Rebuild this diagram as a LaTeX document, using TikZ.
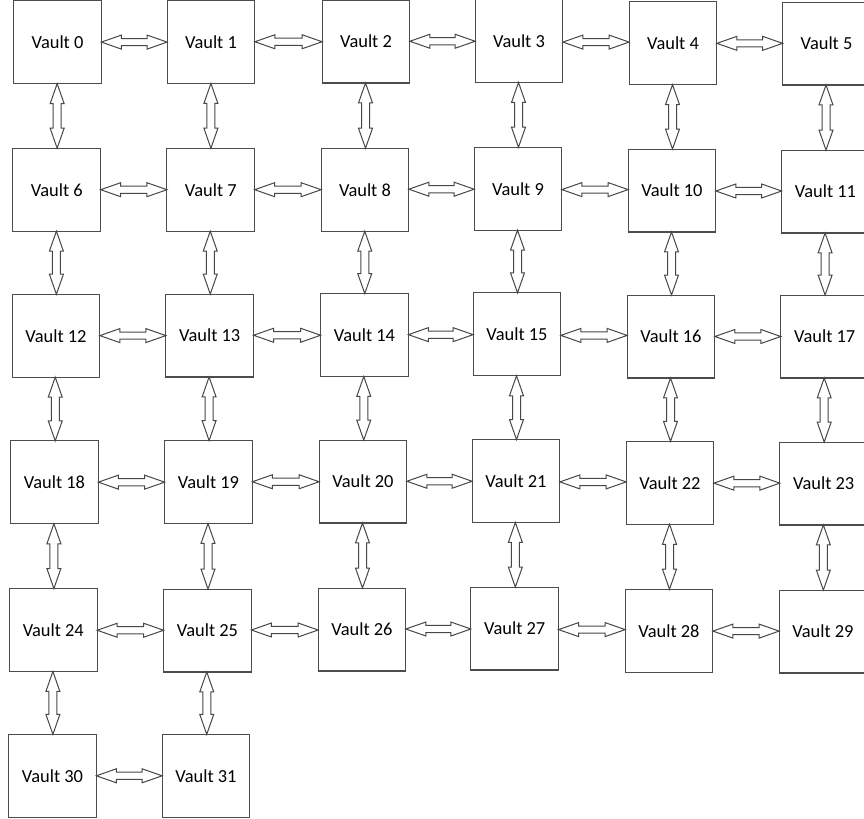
\documentclass[tikz,border=0pt]{standalone}
\usepackage{fontspec}
\setmainfont{Carlito}
\usetikzlibrary{calc}
\tikzset{
  vault/.style={draw=black!70, line width=0.8pt, fill=white, minimum width=65.8pt, minimum height=62.2pt,
    inner sep=0pt, outer sep=0pt, font=\fontsize{13.8}{16}\selectfont, text=black},
  link/.style={draw=black!72, line width=0.75pt, fill=white, line join=miter}
}
\newcommand\hlinkarrow[2]{%
  \path[link] let \p1=(#1.east), \p2=(#2.west), \n1={(\y1+\y2)/2} in
    (\x1,\n1) -- (\x1+15pt,\n1+5.25pt) -- (\x1+15pt,\n1+2.7pt) -- (\x2-15pt,\n1+2.7pt)
    -- (\x2-15pt,\n1+5.25pt) -- (\x2,\n1) -- (\x2-15pt,\n1-5.25pt) -- (\x2-15pt,\n1-2.7pt)
    -- (\x1+15pt,\n1-2.7pt) -- (\x1+15pt,\n1-5.25pt) -- cycle;}
\newcommand\vlinkarrow[2]{%
  \path[link] let \p1=(#1.south), \p2=(#2.north), \n1={(\x1+\x2)/2} in
    (\n1,\y1) -- (\n1+5.25pt,\y1-15pt) -- (\n1+3pt,\y1-15pt) -- (\n1+3pt,\y2+15pt)
    -- (\n1+5.25pt,\y2+15pt) -- (\n1,\y2) -- (\n1-5.25pt,\y2+15pt) -- (\n1-3pt,\y2+15pt)
    -- (\n1-3pt,\y1-15pt) -- (\n1-5.25pt,\y1-15pt) -- cycle;}
\begin{document}
\begin{tikzpicture}[x=0.75pt,y=-0.75pt]
\useasboundingbox (0,0) rectangle (864,818);
\foreach \n/\x/\y in {
  0/57.5/42.2, 1/211/42, 2/366/41.5, 3/519/41, 4/673/43.2, 5/826.5/43.5,
  6/56.8/189.7, 7/210.8/189.7, 8/365/189.7, 9/518/188.7, 10/672/190.5, 11/825.5/191.5,
  12/56/335.7, 13/209.7/335.5, 14/364.5/335, 15/517/334.3, 16/671/336.5, 17/824.7/336.5,
  18/54.5/482.3, 19/208.5/482, 20/363/481.5, 21/516/481, 22/670/482.8, 23/823.7/483.5,
  24/53.3/630, 25/207.5/630.5, 26/362/629.5, 27/514.7/628.5, 28/669/630.7, 29/823/631.5,
  30/52.5/775.8, 31/206/775.8}
  \node[vault] (v\n) at (\x,\y) {Vault \n};
% horizontal links
\foreach \a/\b in {0/1,1/2,2/3,3/4,4/5, 6/7,7/8,8/9,9/10,10/11, 12/13,13/14,14/15,15/16,16/17,
  18/19,19/20,20/21,21/22,22/23, 24/25,25/26,26/27,27/28,28/29, 30/31}
  \hlinkarrow{v\a}{v\b};
% vertical links
\foreach \a/\b in {0/6,1/7,2/8,3/9,4/10,5/11, 6/12,7/13,8/14,9/15,10/16,11/17,
  12/18,13/19,14/20,15/21,16/22,17/23, 18/24,19/25,20/26,21/27,22/28,23/29, 24/30,25/31}
  \vlinkarrow{v\a}{v\b};
\end{tikzpicture}
\end{document}
